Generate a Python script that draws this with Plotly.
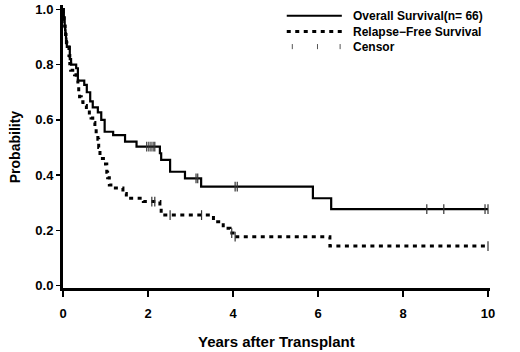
import numpy as np
import plotly.graph_objects as go

# Overall survival (Kaplan-Meier step values)
os_t = [0.00, 0.01, 0.02, 0.03, 0.04, 0.05, 0.06, 0.07, 0.08, 0.09, 0.16, 0.19, 0.31, 0.35,
        0.50, 0.56, 0.64, 0.70, 0.82, 0.90, 0.98, 1.18, 1.46, 1.73, 2.28, 2.31, 2.52,
        2.87, 3.25, 5.88, 6.31, 10.0]
os_s = [1.00, 0.985, 0.97, 0.955, 0.94, 0.924, 0.909, 0.894, 0.879, 0.864, 0.82, 0.80, 0.787, 0.742,
        0.727, 0.70, 0.667, 0.645, 0.627, 0.60, 0.557, 0.545, 0.521, 0.503, 0.479, 0.455, 0.412,
        0.388, 0.358, 0.316, 0.277, 0.277]
os_censor = [1.97, 2.02, 2.07, 2.12, 2.16, 3.13, 3.17, 4.05, 4.10, 8.56, 8.96, 9.93, 10.0]

# Relapse-free survival
rfs_t = [0.00, 0.01, 0.02, 0.03, 0.04, 0.05, 0.06, 0.07, 0.08, 0.09, 0.14, 0.16, 0.18, 0.27,
         0.31, 0.35, 0.37, 0.39, 0.43, 0.47, 0.55, 0.62, 0.66, 0.70, 0.75, 0.78, 0.82, 0.84,
         0.87, 1.00, 1.03, 1.05, 1.09, 1.17, 1.41, 1.49, 1.89, 2.28, 2.31, 2.36, 3.54, 3.77,
         3.93, 4.00, 6.28, 10.0]
rfs_s = [1.00, 0.985, 0.97, 0.955, 0.94, 0.924, 0.909, 0.894, 0.879, 0.864, 0.833, 0.803, 0.78, 0.763,
         0.742, 0.72, 0.70, 0.684, 0.666, 0.652, 0.636, 0.617, 0.607, 0.59, 0.575, 0.557, 0.53, 0.50,
         0.46, 0.44, 0.41, 0.39, 0.364, 0.353, 0.333, 0.316, 0.304, 0.28, 0.263, 0.255, 0.231, 0.207,
         0.19, 0.177, 0.143, 0.143]
rfs_censor = [2.09, 2.16, 2.52, 3.26, 3.97, 4.05, 10.0]

x_ticks = [0, 2, 4, 6, 8, 10]
y_ticks = [0.0, 0.2, 0.4, 0.6, 0.8, 1.0]
legend_labels = ["Overall Survival(n= 66)", "Relapse\u2212Free Survival", "Censor"]


def step_at(ts, ss, t):
    i = int(np.searchsorted(np.asarray(ts), t, side="right")) - 1
    return ss[max(i, 0)]


FONT = "Liberation Sans, Arial, Helvetica, sans-serif"

fig = go.Figure()
fig.add_trace(go.Scatter(x=os_t, y=os_s, mode="lines", line=dict(shape="hv", color="black", width=2.2),
                         showlegend=False, hoverinfo="skip"))
fig.add_trace(go.Scatter(x=rfs_t, y=rfs_s, mode="lines",
                         line=dict(shape="hv", color="black", width=3, dash="4px,4.5px"),
                         showlegend=False, hoverinfo="skip"))
fig.add_trace(go.Scatter(x=os_censor, y=[step_at(os_t, os_s, t) for t in os_censor], mode="markers",
                         marker=dict(symbol="line-ns", size=7, line=dict(color="#333", width=1.2)),
                         showlegend=False, hoverinfo="skip"))
fig.add_trace(go.Scatter(x=rfs_censor, y=[step_at(rfs_t, rfs_s, t) for t in rfs_censor], mode="markers",
                         marker=dict(symbol="line-ns", size=7, line=dict(color="#333", width=1.2)),
                         showlegend=False, hoverinfo="skip"))

# custom legend
ly = [0.962, 0.906, 0.853]
x0, x1, xt = 0.524, 0.653, 0.674
fig.add_shape(type="line", xref="paper", yref="paper", x0=x0, x1=x1, y0=ly[0], y1=ly[0],
              line=dict(color="black", width=2.2))
fig.add_shape(type="line", xref="paper", yref="paper", x0=x0, x1=x1, y0=ly[1], y1=ly[1],
              line=dict(color="black", width=3, dash="4px,4.5px"))
for cx in [0.537, 0.596, 0.649]:
    fig.add_shape(type="line", xref="paper", yref="paper", x0=cx, x1=cx, y0=ly[2] - 0.009, y1=ly[2] + 0.009,
                  line=dict(color="#555", width=1))
for lab, yy in zip(legend_labels, ly):
    fig.add_annotation(text=lab, xref="paper", yref="paper", x=xt, y=yy, xanchor="left", yanchor="middle",
                       showarrow=False, font=dict(family=FONT, size=12, color="black", weight="bold"))

fig.add_annotation(text="Years after Transplant", xref="paper", yref="paper", x=0.499, y=-0.19,
                   xanchor="center", yanchor="middle", showarrow=False,
                   font=dict(family=FONT, size=15, color="black", weight="bold"))
fig.add_annotation(text="Probability", xref="paper", yref="paper", x=-0.112, y=0.498, textangle=-90,
                   xanchor="center", yanchor="middle", showarrow=False,
                   font=dict(family=FONT, size=14, color="black", weight="bold"))

fig.update_layout(
    width=520, height=352,
    margin=dict(l=63, r=30, t=5, b=64, autoexpand=False),
    paper_bgcolor="white", plot_bgcolor="white",
    showlegend=False,
)
fig.update_xaxes(range=[0, 10.047], tickvals=x_ticks, ticktext=[str(v) for v in x_ticks],
                 automargin=False,
                 showgrid=False, zeroline=False, showline=True, linecolor="black", linewidth=3,
                 ticks="outside", ticklen=6, tickwidth=1.5, tickcolor="black", ticklabelstandoff=5,
                 tickfont=dict(family=FONT, size=13, color="black", weight="bold"))
fig.update_yaxes(range=[-0.009, 1.016], tickvals=y_ticks, ticktext=[f"{v:.1f}" for v in y_ticks],
                 automargin=False,
                 showgrid=False, zeroline=False, showline=True, linecolor="black", linewidth=3,
                 ticks="outside", ticklen=4, tickwidth=1.5, tickcolor="black",
                 tickfont=dict(family=FONT, size=13, color="black", weight="bold"))

fig.write_html("out.html", config={"displayModeBar": False, "staticPlot": True},
               post_script="document.body.style.margin='0';document.body.style.overflow='hidden';")
